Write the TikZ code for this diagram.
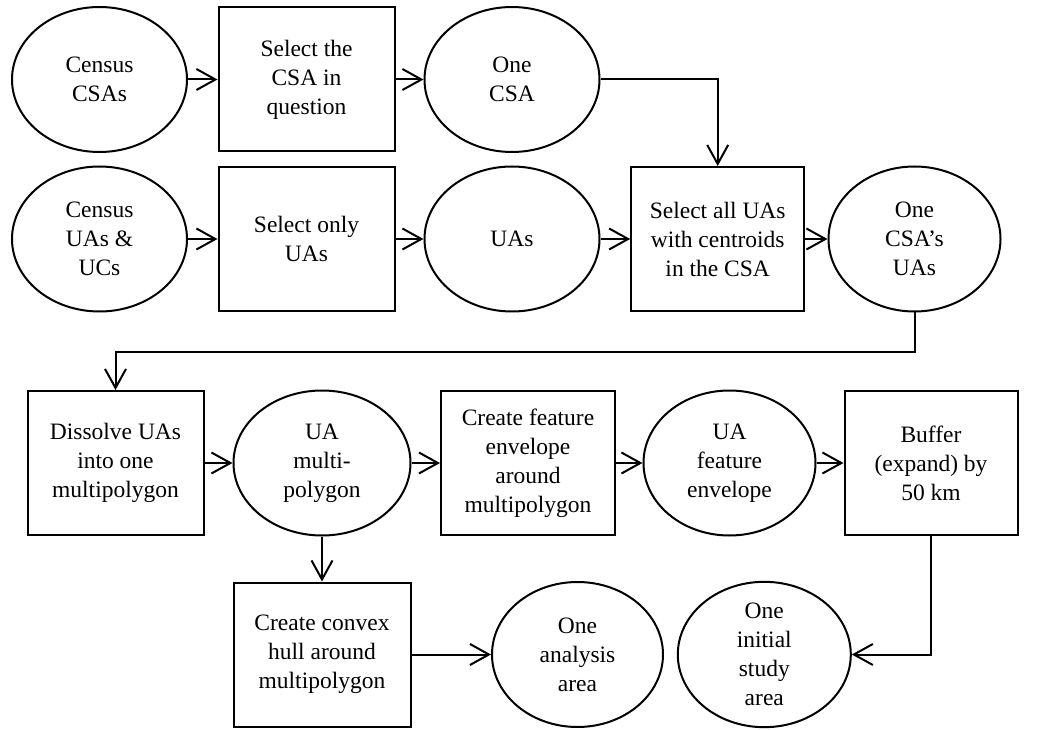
\documentclass[tikz,border=0pt]{standalone}
\usepackage{fontspec}
\setmainfont{Liberation Serif}
\usepackage{tikz}
\usetikzlibrary{shapes,arrows,positioning,calc,arrows.meta}

\begin{document}
\begin{tikzpicture}[x=1pt,y=-1pt,
    line width=2pt,
    every node/.style={font=\fontsize{23.5}{29}\selectfont, align=center, inner sep=0pt},
    proc/.style={draw, rectangle, minimum width=176pt, minimum height=144pt},
    data/.style={draw, ellipse, minimum width=175pt, minimum height=145pt},
    flow/.style={-{Straight Barb[length=19pt,width=21pt]}}]
    \useasboundingbox (0,0) rectangle (1037,730);

    % Row 1
    \node[data] (csas) at (99.5,79.5) {Census\\CSAs};
    \node[proc] (selcsa) at (306.5,79.5) {Select the\\CSA in\\question};
    \node[data] (onecsa) at (512,79.5) {One\\CSA};

    % Row 2
    \node[data] (uauc) at (99.5,239) {Census\\UAs \&\\UCs};
    \node[proc] (selua) at (306.5,239) {Select only\\UAs};
    \node[data] (uas) at (512,239) {UAs};
    \node[proc, minimum width=173pt] (selall) at (717.7,239) {Select all UAs\\with centroids\\in the CSA};
    \node[data, minimum width=172pt] (csaua) at (914.5,239) {One\\CSA's\\UAs};

    % Row 3
    \node[proc] (dissolve) at (115.5,463) {Dissolve UAs\\into one\\multipolygon};
    \node[data, minimum width=177pt] (multi) at (322,463) {UA\\multi-\\polygon};
    \node[proc, minimum width=174pt] (envel) at (528,463) {Create feature\\envelope\\around\\multipolygon};
    \node[data, minimum width=172pt] (uaenv) at (729.5,463) {UA\\feature\\envelope};
    \node[proc, minimum width=173pt] (buffer) at (931,463) {Buffer\\(expand) by\\50 km};

    % Row 4
    \node[proc, minimum width=177pt] (hull) at (322,654.5) {Create convex\\hull around\\multipolygon};
    \node[data, minimum width=171pt] (analysis) at (577.5,654.5) {One\\analysis\\area};
    \node[data, minimum width=173pt] (study) at (764.3,654.5) {One\\initial\\study\\area};

    % Arrows
    \draw[flow] (csas) -- (selcsa);
    \draw[flow] (selcsa) -- (onecsa);
    \draw[flow] (onecsa.east) -| (selall.north);
    \draw[flow] (uauc) -- (selua);
    \draw[flow] (selua) -- (uas);
    \draw[flow] (uas) -- (selall);
    \draw[flow] (selall) -- (csaua);
    \draw[flow] (csaua.south) -- ++(0,39) -| (dissolve.north);
    \draw[flow] (dissolve) -- (multi);
    \draw[flow] (multi) -- (envel);
    \draw[flow] (envel) -- (uaenv);
    \draw[flow] (uaenv) -- (buffer);
    \draw[flow] (multi) -- (hull);
    \draw[flow] (hull) -- (analysis);
    \draw[flow] (buffer.south) |- (study.east);
\end{tikzpicture}
\end{document}
